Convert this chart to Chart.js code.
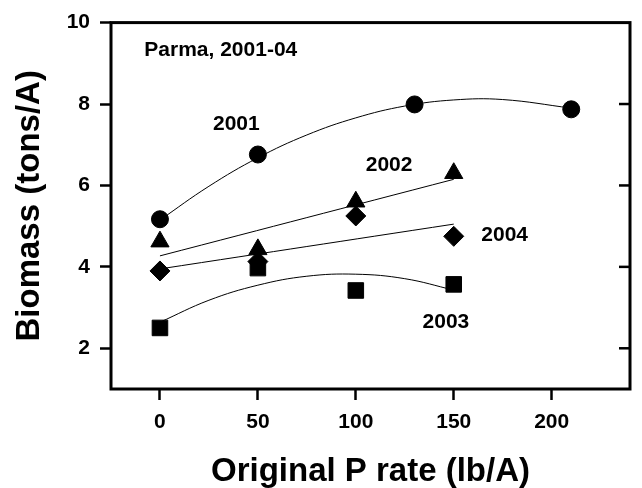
<!DOCTYPE html>
<html lang="en">
<head>
    <meta charset="UTF-8">
    <title>Parma Biomass vs P rate</title>
    <style>
        * {
            margin: 0;
            padding: 0;
            box-sizing: border-box;
        }
        body {
            background-color: #fff;
        }
        .wrap {
            width: 642px;
            height: 488px;
        }
    </style>
</head>
<body>

<div class="wrap">
    <canvas id="biomassChart" width="642" height="488"></canvas>
</div>

<script src="https://cdn.jsdelivr.net/npm/chart.js@4.4.0/dist/chart.umd.min.js"></script>

<script>
// measured biomass by year
const rates2001 = [0, 50, 130, 210];
const biomass2001 = [5.17, 6.76, 7.99, 7.87];
const rates = [0, 50, 100, 150];
const biomass2002 = [4.62, 4.43, 5.6, 6.3];
const biomass2003 = [2.5, 3.97, 3.42, 3.57];
const biomass2004 = [3.9, 4.13, 5.25, 4.75];

// regression curves
const fitX2001 = [0, 25, 50, 75, 100, 125, 150, 175, 210];
const fitY2001 = [5.15, 5.98, 6.68, 7.24, 7.66, 7.95, 8.10, 8.11, 7.90];
const fitX2002 = [0, 150];
const fitY2002 = [4.27, 6.15];
const fitX2003 = [0, 25, 50, 75, 100, 125, 150];
const fitY2003 = [2.64, 3.18, 3.55, 3.77, 3.82, 3.71, 3.43];
const fitX2004 = [0, 150];
const fitY2004 = [3.95, 5.05];

// axis ticks
const xTicks = [0, 50, 100, 150, 200];
const yTicks = [2, 4, 6, 8, 10];

// text inside the plot
const notes = [
    { text: 'Parma, 2001-04', x: -8, y: 9.31, align: 'left' },
    { text: '2001', x: 39, y: 7.51, align: 'center' },
    { text: '2002', x: 117, y: 6.49, align: 'center' },
    { text: '2004', x: 176, y: 4.79, align: 'center' },
    { text: '2003', x: 146, y: 2.64, align: 'center' }
];

const FONT = '"Liberation Sans", Arial, sans-serif';

function pts(xs, ys) {
    return xs.map((x, i) => ({ x: x, y: ys[i] }));
}

function markers(xs, ys, style, r) {
    return {
        data: pts(xs, ys),
        showLine: false,
        pointStyle: style,
        pointRadius: r,
        pointBackgroundColor: '#000',
        pointBorderColor: '#000',
        pointBorderWidth: 1,
        order: 1
    };
}

function curve(xs, ys) {
    return {
        data: pts(xs, ys),
        showLine: true,
        borderColor: '#000',
        borderWidth: 1,
        pointRadius: 0,
        tension: 0.4,
        order: 2
    };
}

// box around the plot, inner ticks on the right, notes
const framePlugin = {
    id: 'frame',
    afterDraw(chart) {
        const { ctx, chartArea: a, scales } = chart;
        ctx.save();
        ctx.strokeStyle = '#000';
        ctx.lineWidth = 3;
        ctx.strokeRect(a.left, a.top, a.right - a.left, a.bottom - a.top);

        ctx.lineWidth = 2.5;
        yTicks.slice(0, -1).forEach(v => {
            const y = scales.y.getPixelForValue(v);
            ctx.beginPath();
            ctx.moveTo(a.right, y);
            ctx.lineTo(a.right - 11, y);
            ctx.stroke();
        });

        ctx.fillStyle = '#000';
        ctx.font = 'bold 21px ' + FONT;
        ctx.textBaseline = 'middle';
        notes.forEach(n => {
            ctx.textAlign = n.align;
            ctx.fillText(n.text, scales.x.getPixelForValue(n.x), scales.y.getPixelForValue(n.y));
        });
        ctx.restore();
    }
};

new Chart(document.getElementById('biomassChart'), {
    type: 'scatter',
    data: {
        datasets: [
            markers(rates2001, biomass2001, 'circle', 8.5),
            markers(rates, biomass2002, 'triangle', 10.5),
            markers(rates, biomass2004, 'rectRot', 10),
            markers(rates, biomass2003, 'rect', 11),
            curve(fitX2001, fitY2001),
            curve(fitX2002, fitY2002),
            curve(fitX2003, fitY2003),
            curve(fitX2004, fitY2004)
        ]
    },
    options: {
        responsive: false,
        animation: false,
        layout: {
            padding: { top: 20, right: 4, left: 0, bottom: 0 }
        },
        plugins: {
            legend: { display: false },
            tooltip: { enabled: false }
        },
        scales: {
            x: {
                type: 'linear',
                min: -25,
                max: 240,
                afterBuildTicks: s => { s.ticks = xTicks.map(v => ({ value: v })); },
                afterFit: s => { s.height = 99; },
                border: { display: false },
                grid: {
                    drawOnChartArea: false,
                    tickLength: 11,
                    tickWidth: 2.5,
                    tickColor: '#000'
                },
                ticks: {
                    color: '#000',
                    padding: 10,
                    maxRotation: 0,
                    font: { family: FONT, size: 21, weight: 'bold' }
                },
                title: {
                    display: true,
                    text: 'Original P rate (lb/A)',
                    color: '#000',
                    padding: { top: 0, bottom: 0 },
                    font: { family: FONT, size: 33, weight: 'bold', lineHeight: 1 }
                }
            },
            y: {
                type: 'linear',
                min: 1,
                max: 10,
                afterBuildTicks: s => { s.ticks = yTicks.map(v => ({ value: v })); },
                afterFit: s => { s.width = 111; },
                border: { display: false },
                grid: {
                    drawOnChartArea: false,
                    tickLength: 11,
                    tickWidth: 2.5,
                    tickColor: '#000'
                },
                ticks: {
                    color: '#000',
                    padding: 10,
                    font: { family: FONT, size: 21, weight: 'bold' }
                },
                title: {
                    display: true,
                    text: 'Biomass (tons/A)',
                    color: '#000',
                    padding: { top: 13, bottom: 0 },
                    font: { family: FONT, size: 33, weight: 'bold', lineHeight: 1 }
                }
            }
        }
    },
    plugins: [framePlugin]
});
</script>

</body>
</html>
